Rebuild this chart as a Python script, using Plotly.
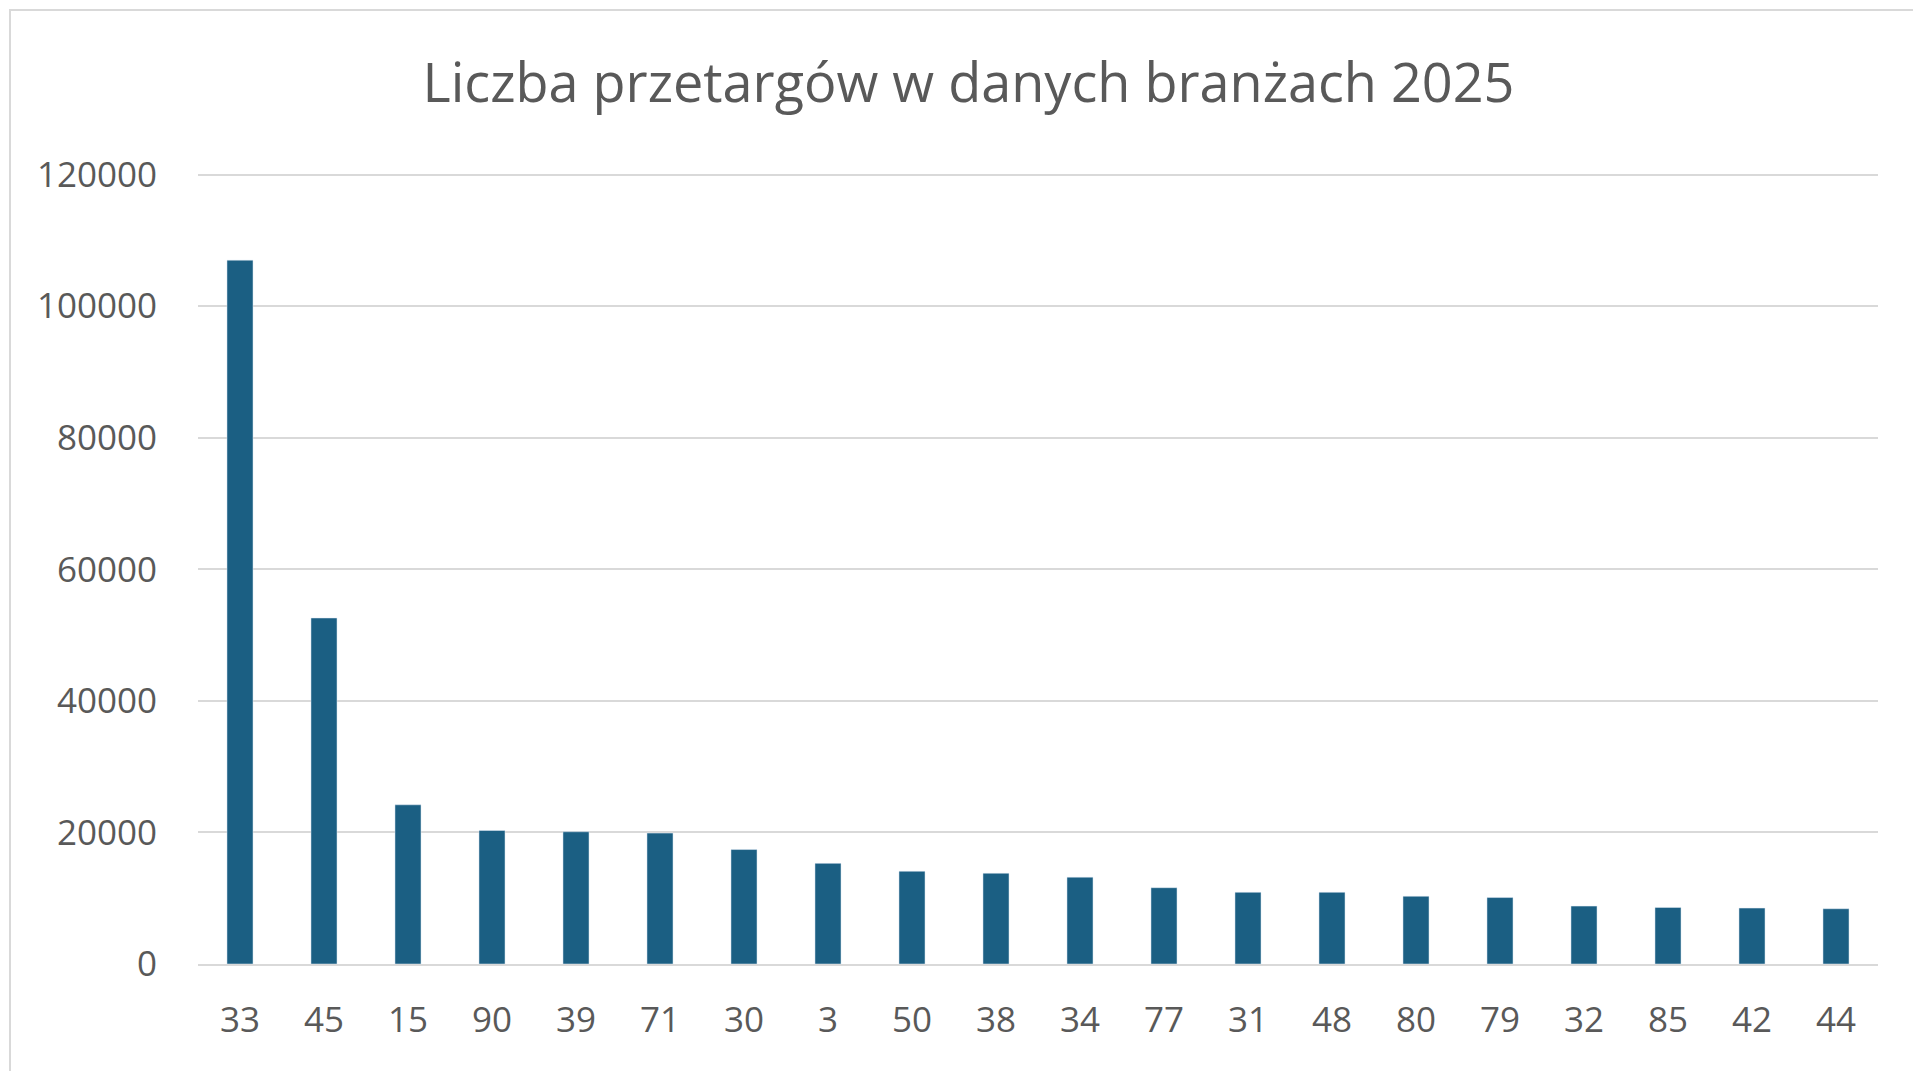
import plotly.graph_objects as go

categories = ["33","45","15","90","39","71","30","3","50","38","34","77","31","48","80","79","32","85","42","44"]
values = [107000,52600,24200,20300,20100,19900,17400,15300,14100,13800,13200,11600,10900,10900,10300,10100,8800,8600,8500,8400]
tick_vals = [0,20000,40000,60000,80000,100000,120000]

L, R, T, B = 190, 51, 164, 115
W, H = 1921, 1071
pw, ph = W - L - R, H - T - B

fig = go.Figure(go.Bar(x=categories, y=values, marker_color="#1b5f83", width=0.31))
fig.update_layout(
    width=W, height=H,
    paper_bgcolor="white", plot_bgcolor="white",
    font=dict(family="Open Sans", color="#595959", size=35),
    title=dict(text="Liczba przetargów w danych branżach 2025", x=0.5, xanchor="center",
               y=0.93, yanchor="middle", font=dict(size=54, color="#595959")),
    margin=dict(l=L, r=R, t=T, b=B),
    showlegend=False,
    xaxis=dict(type="category", showline=True, linecolor="#d9d9d9", linewidth=2, ticks="",
               showgrid=False, ticklabelstandoff=24),
    yaxis=dict(range=[0,120400], tickvals=tick_vals, ticktext=[str(v) for v in tick_vals],
               showgrid=True, gridcolor="#d9d9d9", gridwidth=2, zeroline=False, ticks="",
               ticklabelstandoff=40),
    shapes=[dict(type="rect", xref="paper", yref="paper",
                 x0=(2 - L) / pw, x1=(W - 3 - L) / pw,
                 y0=-(H - 3 - T - ph) / ph, y1=1 + (T - 2) / ph,
                 line=dict(color="#d9d9d9", width=2))],
)
fig.write_html("out.html")
